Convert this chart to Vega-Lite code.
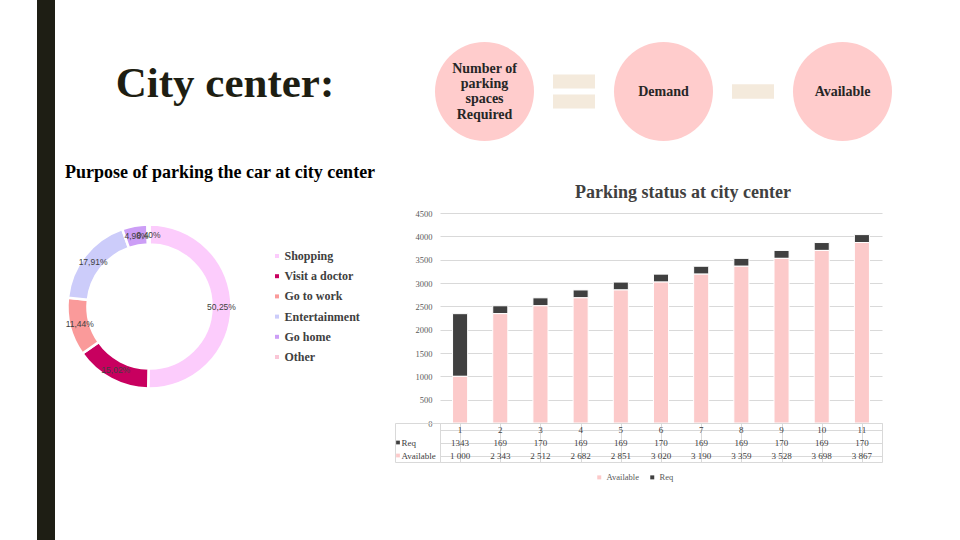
{
  "$schema": "https://vega.github.io/schema/vega-lite/v6.json",
  "padding": {"left": 37, "top": 0, "right": 0, "bottom": 0},
  "background": "white",
  "bounds": "flush",
  "spacing": 0,
  "resolve": {"scale": {"color": "independent", "x": "independent", "y": "independent"}, "legend": {"color": "independent"}},
  "config": {
    "view": {"stroke": null},
    "locale": {"number": {"decimal": ",", "thousands": " ", "grouping": [3], "currency": ["", ""]}},
    "font": "Liberation Serif"
  },
  "datasets": {
    "parking": [
      {"n": 1, "series": "Req", "value": 1343}, {"n": 1, "series": "Available", "value": 1000},
      {"n": 2, "series": "Req", "value": 169}, {"n": 2, "series": "Available", "value": 2343},
      {"n": 3, "series": "Req", "value": 170}, {"n": 3, "series": "Available", "value": 2512},
      {"n": 4, "series": "Req", "value": 169}, {"n": 4, "series": "Available", "value": 2682},
      {"n": 5, "series": "Req", "value": 169}, {"n": 5, "series": "Available", "value": 2851},
      {"n": 6, "series": "Req", "value": 170}, {"n": 6, "series": "Available", "value": 3020},
      {"n": 7, "series": "Req", "value": 169}, {"n": 7, "series": "Available", "value": 3190},
      {"n": 8, "series": "Req", "value": 169}, {"n": 8, "series": "Available", "value": 3359},
      {"n": 9, "series": "Req", "value": 170}, {"n": 9, "series": "Available", "value": 3528},
      {"n": 10, "series": "Req", "value": 169}, {"n": 10, "series": "Available", "value": 3698},
      {"n": 11, "series": "Req", "value": 170}, {"n": 11, "series": "Available", "value": 3867}
    ],
    "purpose": [
      {"purpose": "Shopping", "share": 0.5025, "rank": 1},
      {"purpose": "Visit a doctor", "share": 0.1502, "rank": 2},
      {"purpose": "Go to work", "share": 0.1144, "rank": 3},
      {"purpose": "Entertainment", "share": 0.1791, "rank": 4},
      {"purpose": "Go home", "share": 0.0498, "rank": 5},
      {"purpose": "Other", "share": 0.0040, "rank": 6}
    ],
    "diagram": [
      {"pos": 1, "kind": "circle", "label": "Number of\nparking\nspaces\nRequired"},
      {"pos": 2, "kind": "equals", "label": ""},
      {"pos": 3, "kind": "circle", "label": "Demand"},
      {"pos": 4, "kind": "minus", "label": ""},
      {"pos": 5, "kind": "circle", "label": "Available"}
    ]
  },
  "hconcat": [
    {
      "width": 18, "height": 540,
      "view": {"fill": "#1e1e14", "stroke": null},
      "data": {"values": []},
      "mark": "text"
    },
    {
      "bounds": "flush",
      "spacing": 0,
      "columns": 2,
      "resolve": {"scale": {"color": "independent", "x": "independent", "y": "independent"}, "legend": {"color": "independent"}},
      "concat": [
        {
          "width": 340, "height": 213,
          "data": {"values": [{"t": "City center:"}]},
          "mark": {"type": "text", "font": "Liberation Serif", "fontWeight": "bold", "fontSize": 43, "color": "#1e1e12", "align": "center", "baseline": "alphabetic", "dy": -9.5},
          "encoding": {"text": {"field": "t"}}
        },
        {
          "width": 537, "height": 213,
          "data": {"name": "diagram"},
          "encoding": {
            "x": {"field": "pos", "type": "ordinal", "axis": null, "scale": {"type": "point", "padding": 1.186}}
          },
          "layer": [
            {
              "transform": [{"filter": "datum.kind == 'circle'"}],
              "mark": {"type": "point", "shape": "circle", "filled": true, "opacity": 1, "size": 9800, "color": "#FFCCCC", "yOffset": -15}
            },
            {
              "transform": [{"filter": "datum.kind == 'equals'"}],
              "mark": {"type": "point", "shape": "M-1,-0.81H1V-0.14H-1Z M-1,0.14H1V0.81H-1Z", "filled": true, "opacity": 1, "size": 1764, "color": "#F4EADC", "yOffset": -15}
            },
            {
              "transform": [{"filter": "datum.kind == 'minus'"}],
              "mark": {"type": "point", "shape": "M-1,-0.35H1V0.35H-1Z", "filled": true, "opacity": 1, "size": 1764, "color": "#F4EADC", "yOffset": -15}
            },
            {
              "transform": [{"filter": "datum.kind == 'circle' && datum.pos == 1"}],
              "mark": {"type": "text", "font": "Liberation Serif", "fontWeight": "bold", "fontSize": 14, "lineBreak": "\n", "lineHeight": 15.4, "color": "#262626", "align": "center", "baseline": "middle", "yOffset": -38},
              "encoding": {"text": {"field": "label"}}
            },
            {
              "transform": [{"filter": "datum.kind == 'circle' && datum.pos != 1"}],
              "mark": {"type": "text", "font": "Liberation Serif", "fontWeight": "bold", "fontSize": 14, "color": "#262626", "align": "center", "baseline": "middle", "yOffset": -15},
              "encoding": {"text": {"field": "label"}}
            }
          ]
        },
        {
          "width": 189, "height": 187,
          "title": {"text": "Purpose of parking the car at city center", "anchor": "start", "frame": "group", "font": "Liberation Serif", "fontWeight": "bold", "fontSize": 18, "color": "#000000", "baseline": "alphabetic", "offset": 17, "dx": 10},
          "data": {"name": "purpose"},
          "encoding": {
            "theta": {"field": "share", "type": "quantitative", "stack": true},
            "order": {"field": "rank", "type": "quantitative", "sort": "ascending"},
            "color": {
              "field": "purpose", "type": "nominal",
              "scale": {"domain": ["Shopping", "Visit a doctor", "Go to work", "Entertainment", "Go home", "Other"], "range": ["#FCCCFC", "#C8005F", "#FA9A9A", "#CCCCFA", "#CC9EF6", "#FAC6D6"]},
              "legend": {"orient": "none", "legendX": 216, "legendY": 37, "title": null, "symbolType": "square", "symbolSize": 16, "symbolStrokeWidth": 0, "labelFont": "Liberation Serif", "labelFontWeight": "bold", "labelFontSize": 12, "labelColor": "#404040", "labelOffset": 1.5, "rowPadding": 8.2}
            }
          },
          "layer": [
            {"mark": {"type": "arc", "outerRadius": 82, "innerRadius": 62, "stroke": "white", "strokeWidth": 2.5}},
            {
              "mark": {"type": "text", "radius": 72, "font": "Liberation Sans", "fontSize": 8.5, "color": "#404040"},
              "encoding": {"text": {"field": "share", "type": "quantitative", "format": ".2%"}, "color": {"value": "#404040"}}
            }
          ]
        },
        {
          "bounds": "flush",
          "spacing": 0,
          "columns": 2,
          "resolve": {"scale": {"color": "independent", "x": "independent", "y": "independent"}, "legend": {"color": "independent"}},
          "concat": [
            {"width": 45, "height": 210, "data": {"values": []}, "mark": "text"},
            {
              "width": 442, "height": 210,
              "title": {"text": "Parking status at city center", "anchor": "middle", "font": "Liberation Serif", "fontWeight": "bold", "fontSize": 18, "color": "#404040", "baseline": "alphabetic", "offset": -7, "dx": 22},
              "data": {"name": "parking"},
              "mark": {"type": "bar", "stroke": "white", "strokeWidth": 1},
              "encoding": {
                "x": {"field": "n", "type": "ordinal", "axis": null, "scale": {"paddingInner": 0.625, "paddingOuter": 0.3125}},
                "y": {"field": "value", "type": "quantitative", "stack": "zero", "scale": {"domain": [0, 4500]},
                  "axis": {"values": [0, 500, 1000, 1500, 2000, 2500, 3000, 3500, 4000, 4500], "title": null, "domain": false, "ticks": false, "labelPadding": 8, "labelFont": "Liberation Serif", "labelFontSize": 8.5, "labelColor": "#595959", "gridColor": "#D9D9D9", "format": "d"}},
                "color": {"field": "series", "type": "nominal", "scale": {"domain": ["Available", "Req"], "range": ["#FCCACA", "#404040"]},
                  "legend": {"orient": "none", "legendX": 155, "legendY": 260, "direction": "horizontal", "title": null, "symbolType": "square", "symbolSize": 16, "symbolStrokeWidth": 0, "labelFont": "Liberation Serif", "labelFontSize": 8.5, "labelColor": "#595959", "labelOffset": 3, "columnPadding": 9}},
                "order": {"field": "series", "type": "nominal", "sort": "ascending"}
              }
            },
            {
              "width": 45, "height": 39,
              "view": {"stroke": "#D9D9D9"},
              "data": {"values": [{"series": "Req"}, {"series": "Available"}]},
              "encoding": {
                "y": {"field": "series", "type": "nominal", "axis": null, "scale": {"domain": ["cat", "Req", "Available"], "paddingInner": 0, "paddingOuter": 0}}
              },
              "layer": [
                {
                  "mark": {"type": "point", "shape": "square", "filled": true, "opacity": 1, "size": 14, "xOffset": -19.5},
                  "encoding": {"color": {"field": "series", "type": "nominal", "scale": {"domain": ["Available", "Req"], "range": ["#FCCACA", "#404040"]}, "legend": null}}
                },
                {
                  "mark": {"type": "text", "align": "left", "dx": -16, "font": "Liberation Serif", "fontSize": 9, "color": "#404040"},
                  "encoding": {"text": {"field": "series"}}
                }
              ]
            },
            {
              "width": 442, "height": 39,
              "view": {"stroke": "#D9D9D9"},
              "data": {"name": "parking"},
              "encoding": {
                "x": {"field": "n", "type": "ordinal", "scale": {"paddingInner": 0, "paddingOuter": 0},
                  "axis": {"title": null, "labels": false, "ticks": false, "domain": false, "grid": true, "bandPosition": 0, "gridColor": "#D9D9D9"}}
              },
              "layer": [
                {
                  "transform": [{"filter": "datum.series == 'Req'"}],
                  "mark": {"type": "text", "font": "Liberation Serif", "fontSize": 9, "color": "#404040"},
                  "encoding": {
                    "y": {"datum": "cat", "type": "nominal", "scale": {"domain": ["cat", "Req", "Available"], "paddingInner": 0, "paddingOuter": 0},
                      "axis": {"title": null, "labels": false, "ticks": false, "domain": false, "grid": true, "bandPosition": 0, "gridColor": "#D9D9D9"}},
                    "text": {"field": "n", "type": "ordinal"}
                  }
                },
                {
                  "transform": [{"filter": "datum.series == 'Req'"}],
                  "mark": {"type": "text", "font": "Liberation Serif", "fontSize": 9, "color": "#404040"},
                  "encoding": {
                    "y": {"field": "series", "type": "nominal"},
                    "text": {"field": "value", "type": "quantitative", "format": "d"}
                  }
                },
                {
                  "transform": [{"filter": "datum.series == 'Available'"}],
                  "mark": {"type": "text", "font": "Liberation Serif", "fontSize": 9, "color": "#404040"},
                  "encoding": {
                    "y": {"field": "series", "type": "nominal"},
                    "text": {"field": "value", "type": "quantitative", "format": ",d"}
                  }
                }
              ]
            }
          ]
        }
      ]
    }
  ]
}
